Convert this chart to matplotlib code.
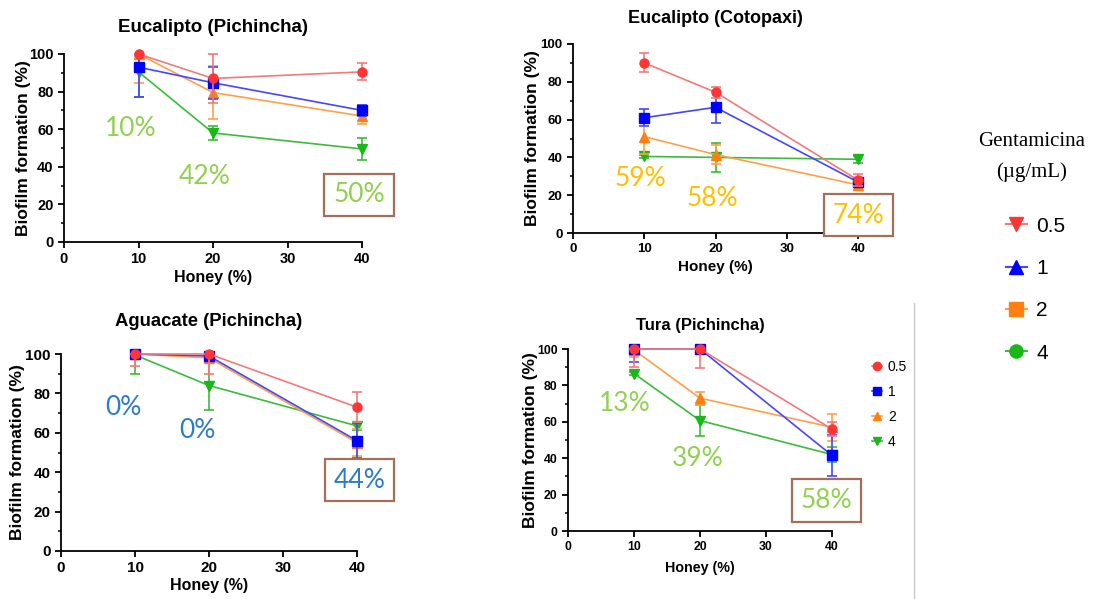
import numpy as np
import matplotlib
matplotlib.use("Agg")
import matplotlib.pyplot as plt
from matplotlib.lines import Line2D
from matplotlib.ticker import MultipleLocator

plt.rcParams['font.family'] = ['Liberation Sans', 'DejaVu Sans']

honey = [10, 20, 40]
conc_labels = ['0.5', '1', '2', '4']

# Eucalipto (Pichincha)
euc_pich_mean = [[100, 87, 90.5], [93, 84.7, 70], [100, 79.5, 67], [90.5, 58, 49.5]]
euc_pich_err = [[1, 13, 4.5], [16, 8.5, 3], [15.5, 14, 4.5], [13.5, 3.5, 6]]
# Eucalipto (Cotopaxi)
euc_coto_mean = [[90, 74.5, 28], [61, 66.5, 27], [51, 41.5, 25.5], [40.5, 40, 39]]
euc_coto_err = [[5, 3, 3], [4.5, 8.5, 2], [9, 5, 3], [1, 7.5, 2]]
# Aguacate (Pichincha)
agu_pich_mean = [[100, 100, 73], [100, 99, 56], [100, 98, 55], [99.5, 84, 63.5]]
agu_pich_err = [[6, 10, 7.5], [1, 1.5, 9], [1, 2, 7], [9.5, 12.5, 2]]
# Tura (Pichincha)
tura_pich_mean = [[100, 100, 56], [100, 100, 41.5], [99.5, 73, 57], [86.5, 60.7, 42]]
tura_pich_err = [[10, 10.5, 4], [7, 1, 11.5], [4, 3.5, 7.5], [1, 8.5, 4]]

# reduction labels: (text, x, y)
euc_pich_notes = [('10%', 9.0, 60.6), ('42%', 18.9, 34.6)]
euc_pich_box = ('50%', 39.6, 25)
euc_coto_notes = [('59%', 9.4, 29.1), ('58%', 19.6, 18.5)]
euc_coto_box = ('74%', 40.1, 9.5)
agu_pich_notes = [('0%', 8.5, 73), ('0%', 18.4, 61.4)]
agu_pich_box = ('44%', 40.3, 36)
tura_pich_notes = [('13%', 8.6, 70.3), ('39%', 19.7, 40.1)]
tura_pich_box = ('58%', 39.2, 16.8)

line_colors = ['#f37a7a', '#4646ff', '#ffa048', '#3cbb3c']
mark_colors = ['#ff3535', '#0000ff', '#ff8010', '#18b818']
markers = ['o', 's', '^', 'v']
green_txt = '#92d050'
gold_txt = '#ffc000'
blue_txt = '#2e7cc4'
box_edge = '#a46e58'

W, H = 1103, 599
fig = plt.figure(figsize=(W / 100, H / 100), dpi=100)


def px_axes(left, top, right, bottom):
    return fig.add_axes([left / W, 1 - bottom / H, (right - left) / W, (bottom - top) / H])


def panel(ax, title, means, errs, notes, box, note_color, tick_fs, title_fs, xl_fs,
          title_pad, xl_off, yl_off, wpx, hpx):
    for i in [3, 2, 1, 0]:
        m = np.array(means[i], float)
        e = np.array(errs[i], float)
        upper = np.minimum(e, 100 - m)  # bars stop at the 100 % ceiling
        ax.errorbar(honey, m, yerr=[e, upper], color=line_colors[i], lw=1.2,
                    marker=markers[i], ms=6.5, mfc=mark_colors[i], mec=mark_colors[i],
                    ecolor=line_colors[i], elinewidth=1.2, capsize=3.5, capthick=1.2,
                    clip_on=False, zorder=3 + (3 - i))
    ax.set_xlim(0, 40)
    ax.set_ylim(0, 100)
    ax.set_xticks([0, 10, 20, 30, 40])
    ax.set_yticks([0, 20, 40, 60, 80, 100])
    ax.yaxis.set_minor_locator(MultipleLocator(10))
    for s in ['top', 'right']:
        ax.spines[s].set_visible(False)
    for s in ['left', 'bottom']:
        ax.spines[s].set_linewidth(1.3)
    ax.tick_params(which='major', length=4, width=1.3, labelsize=tick_fs)
    ax.tick_params(which='minor', length=2.5, width=1.1)
    for lab in ax.get_xticklabels() + ax.get_yticklabels():
        lab.set_fontweight('bold')
    ax.set_title(title, fontsize=title_fs, fontweight='bold', pad=title_pad)
    ax.set_xlabel('Honey (%)', fontsize=xl_fs, fontweight='bold')
    ax.set_ylabel('Biofilm formation (%)', fontsize=12.5, fontweight='bold')
    ax.xaxis.set_label_coords(0.5, -xl_off / hpx)
    ax.yaxis.set_label_coords(-yl_off / wpx, 0.5)
    for txt, x, y in notes:
        ax.text(x, y, txt, color=note_color, fontsize=19, family=['Lato', 'DejaVu Sans'],
                ha='center', va='center')
    txt, x, y = box
    ax.text(x, y, txt, color=note_color, fontsize=19, family=['Lato', 'DejaVu Sans'],
            ha='center', va='center', clip_on=False, zorder=10,
            bbox=dict(boxstyle='square,pad=0.33', fc='white', ec=box_edge, lw=1.6))


ax1 = px_axes(64, 54, 362, 242)
panel(ax1, 'Eucalipto (Pichincha)', euc_pich_mean, euc_pich_err, euc_pich_notes,
      euc_pich_box, green_txt, 10.5, 13.5, 11.5, 16, 28, 32.5, 298, 188)
ax2 = px_axes(573, 44, 858, 233)
panel(ax2, 'Eucalipto (Cotopaxi)', euc_coto_mean, euc_coto_err, euc_coto_notes,
      euc_coto_box, gold_txt, 9.5, 13, 11, 15, 27, 32.5, 285, 189)
ax3 = px_axes(61, 354, 357, 551)
panel(ax3, 'Aguacate (Pichincha)', agu_pich_mean, agu_pich_err, agu_pich_notes,
      agu_pich_box, blue_txt, 11, 13.3, 11.5, 20, 27, 35.5, 296, 197)
ax4 = px_axes(568, 349, 832, 531)
panel(ax4, 'Tura (Pichincha)', tura_pich_mean, tura_pich_err, tura_pich_notes,
      tura_pich_box, green_txt, 8.8, 12, 10.3, 14, 30, 29.5, 264, 182)

# small legend next to Tura panel
h4 = [Line2D([], [], color=line_colors[i], marker=markers[i], ms=6, mfc=mark_colors[i],
             mec=mark_colors[i], lw=1.2) for i in range(4)]
fig.legend(h4, conc_labels, loc='center left', bbox_to_anchor=(872 / W, 1 - 404.5 / H),
           frameon=False, fontsize=10, handlelength=0.75, handletextpad=0.4,
           labelspacing=0.8, borderpad=0, borderaxespad=0)

# main legend (right)
big_markers = ['v', '^', 's', 'o']
hb = [Line2D([], [], color=line_colors[i], marker=big_markers[i], ms=9.5, mfc=mark_colors[i],
             mec=mark_colors[i], lw=1.5) for i in range(4)]
fig.legend(hb, conc_labels, loc='center left', bbox_to_anchor=(1006 / W, 1 - 289.5 / H),
           frameon=False, fontsize=15, handlelength=1.0, handletextpad=0.45,
           labelspacing=1.12, borderpad=0, borderaxespad=0)
fig.text(1032 / W, 1 - 142 / H, 'Gentamicina', ha='center', va='center', fontsize=15,
         family=['Liberation Serif', 'DejaVu Serif'])
fig.text(1032 / W, 1 - 172 / H, '(µg/mL)', ha='center', va='center', fontsize=15,
         family=['Liberation Serif', 'DejaVu Serif'])

fig.add_artist(Line2D([914 / W, 914 / W], [0, 1 - 303 / H], color='#c8c8c8', lw=1))

fig.savefig('out.png', dpi=100)
